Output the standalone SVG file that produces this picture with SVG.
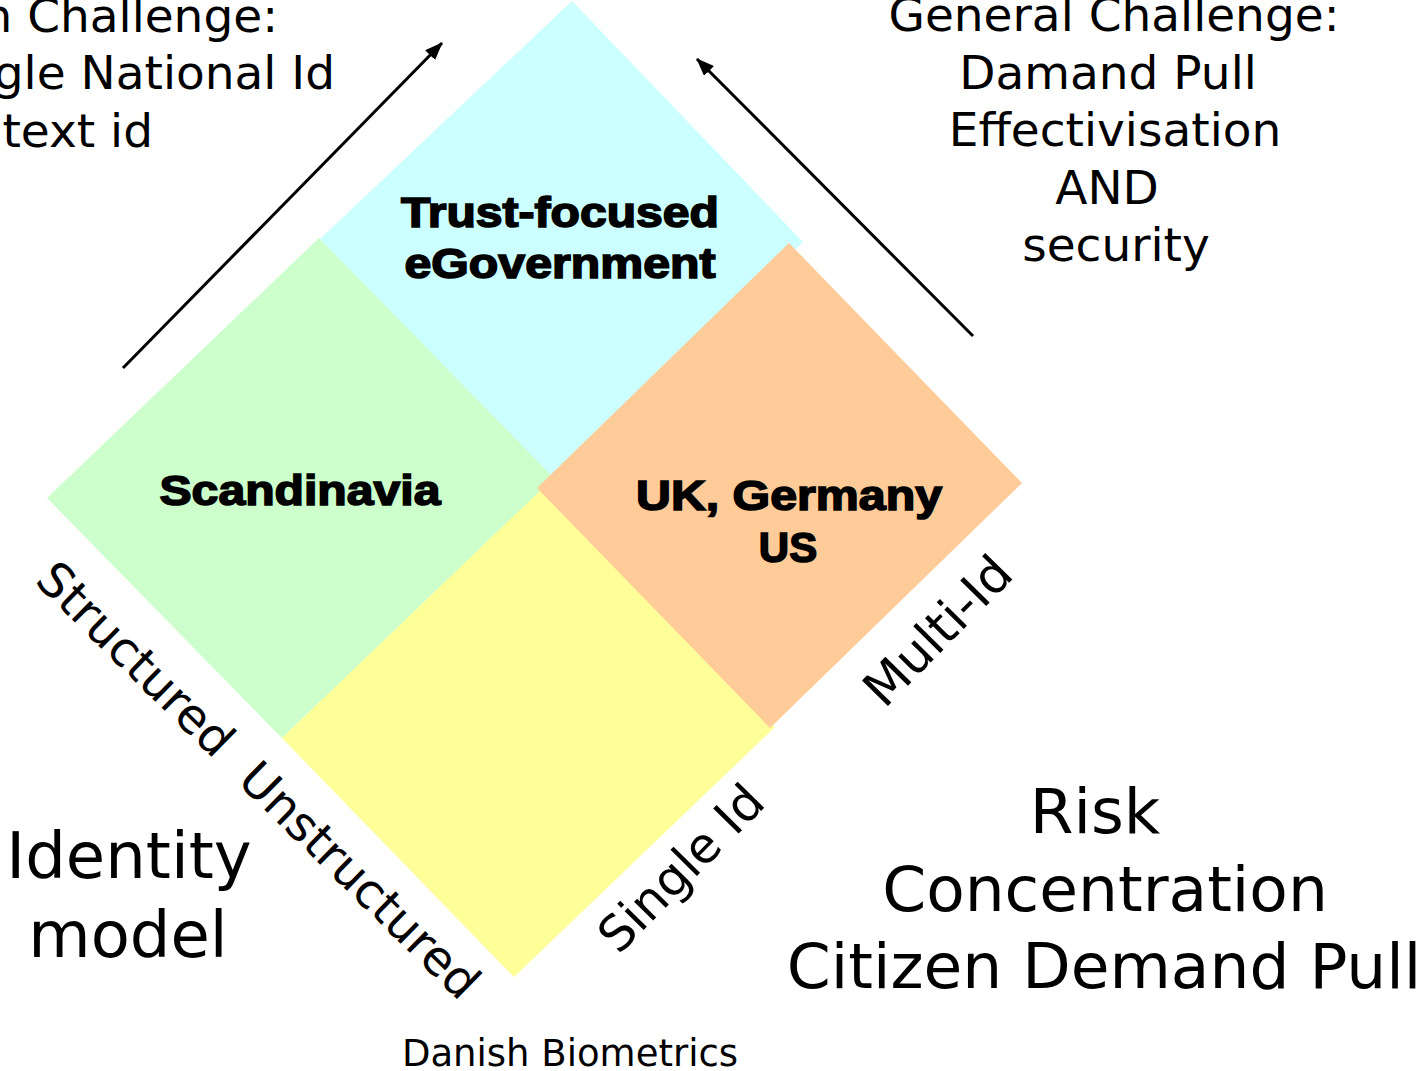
<svg xmlns="http://www.w3.org/2000/svg" width="1427" height="1071" viewBox="0 0 1427 1071">
<style>
.t{font-family:"DejaVu Sans","Verdana",sans-serif;fill:#000}
.b{font-family:"Liberation Sans","Arial",sans-serif;font-weight:bold;fill:#000;stroke:#000;stroke-width:1.6;text-anchor:middle;font-size:42px}
.c{text-anchor:middle}
.e{text-anchor:end}
.conn{stroke:#000;stroke-width:3;fill:none}
</style>
<defs>
<marker id="ah" markerUnits="userSpaceOnUse" markerWidth="18" markerHeight="14" refX="17" refY="7" orient="auto">
<path d="M0,0 L18,7 L0,14 z" fill="#000"/>
</marker>
</defs>
<rect width="1427" height="1071" fill="#fff"/>
<g id="trust">
<polygon points="572,1 803,242 550,479 320,239" fill="#CCFFFF"/>
<text class="b" x="560" y="227" textLength="318" lengthAdjust="spacingAndGlyphs">Trust-focused</text>
<text class="b" x="560" y="278" textLength="311" lengthAdjust="spacingAndGlyphs">eGovernment</text>
</g>
<g id="scandinavia">
<polygon points="319,238 554,478 282,738 47,498" fill="#CCFFCC"/>
<text class="b" x="300" y="505" textLength="281" lengthAdjust="spacingAndGlyphs">Scandinavia</text>
</g>
<g id="unstructured-single">
<polygon points="543,488 775,727 514,977 282,738" fill="#FFFF99"/>
</g>
<g id="uk">
<polygon points="789,243 1022,483 770,728 537,488" fill="#FFCC99"/>
<text class="b" x="789" y="510" textLength="306" lengthAdjust="spacingAndGlyphs">UK, Germany</text>
<text class="b" x="788" y="562">US</text>
</g>
<g id="connectors">
<line class="conn" x1="123" y1="368" x2="442" y2="43" marker-end="url(#ah)"/>
<line class="conn" x1="973" y1="336" x2="697" y2="59" marker-end="url(#ah)"/>
</g>
<g id="labels">
<text class="t e" font-size="47" x="278" y="32">Main Challenge:</text>
<text class="t e" font-size="47" x="335" y="89">Single National Id</text>
<text class="t e" font-size="47" x="153" y="147">Context id</text>
<text class="t c" font-size="47" x="1114" y="31">General Challenge:</text>
<text class="t c" font-size="47" x="1108" y="89">Damand Pull</text>
<text class="t c" font-size="47" x="1115" y="146">Effectivisation</text>
<text class="t c" font-size="47" x="1107" y="204">AND</text>
<text class="t c" font-size="47" x="1116" y="261">security</text>
<text class="t c" font-size="48" transform="translate(124,671) rotate(44.5)">Structured</text>
<text class="t c" font-size="48" transform="translate(348,892) rotate(44.5)">Unstructured</text>
<text class="t c" font-size="49" transform="translate(693,880) rotate(-45.5)">Single Id</text>
<text class="t c" font-size="50" transform="translate(950,643) rotate(-45.5)">Multi-Id</text>
<text class="t c" font-size="64" x="129" y="878">Identity</text>
<text class="t c" font-size="64" x="128" y="957">model</text>
<text class="t c" font-size="63" x="1095" y="833">Risk</text>
<text class="t c" font-size="63" x="1105" y="911">Concentration</text>
<text class="t c" font-size="63" x="1104" y="988">Citizen Demand Pull</text>
<text class="t c" font-size="37" x="570" y="1066">Danish Biometrics</text>
</g>
</svg>
